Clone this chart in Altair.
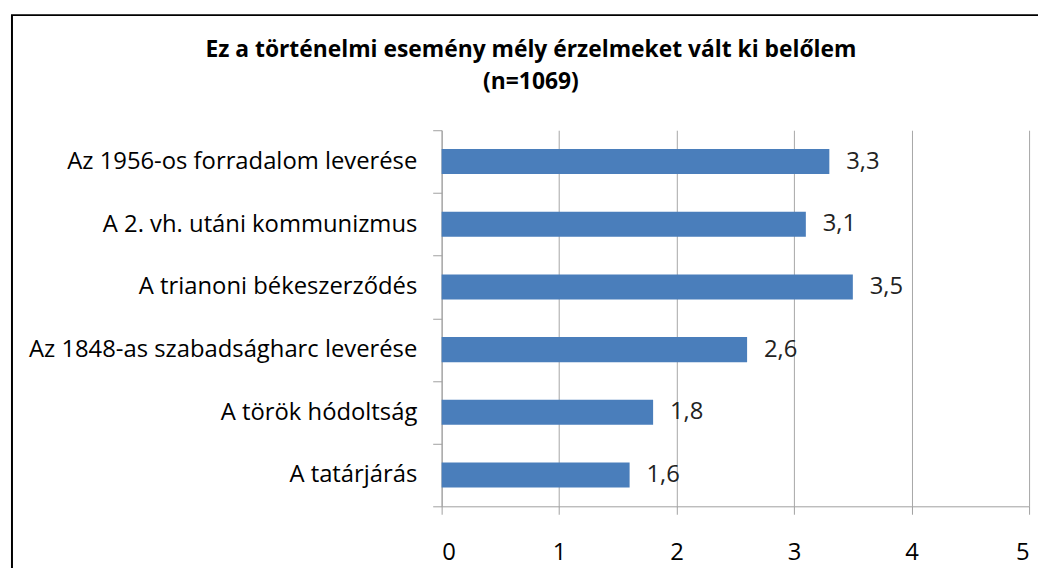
import altair as alt
import pandas as pd

categories = [
    "Az 1956-os forradalom leverése",
    "A 2. vh. utáni kommunizmus",
    "A trianoni békeszerződés",
    "Az 1848-as szabadságharc leverése",
    "A török hódoltság",
    "A tatárjárás",
]
values = [3.3, 3.1, 3.5, 2.6, 1.8, 1.6]
x_ticks = [0, 1, 2, 3, 4, 5]
title_lines = ["Ez a történelmi esemény mély érzelmeket vált ki belőlem", "(n=1069)"]

df = pd.DataFrame({"cat": categories, "val": values})
df["lbl"] = [f"{v:.1f}".replace(".", ",") for v in values]

FONT = "Open Sans"
LEFT = 437
TOP = 121
W, H = 592, 379
PLOT_X = 441
PLOT_TOP = 129
TITLE_X = 531 - PLOT_X

y_enc = alt.Y(
    "cat:N",
    sort=categories,
    title=None,
    scale=alt.Scale(paddingInner=0, paddingOuter=0),
    axis=alt.Axis(
        tickBand="extent",
        tickSize=9,
        tickColor="#a0a0a0",
        domainColor="#a0a0a0",
        labelFont=FONT,
        labelFontSize=24,
        labelColor="#000000",
        labelPadding=16,
        labelLimit=500,
        grid=False,
    ),
)
x_enc = alt.X(
    "val:Q",
    title=None,
    scale=alt.Scale(domain=[0, 5], nice=False),
    axis=alt.Axis(
        values=x_ticks,
        tickSize=8,
        tickColor="#a0a0a0",
        domainColor="#a0a0a0",
        gridColor="#a6a6a6",
        labelFont=FONT,
        labelFontSize=24,
        labelColor="#000000",
        labelPadding=27,
        format="d",
    ),
)

frame = alt.Chart(pd.DataFrame({"a": [0]})).mark_rect(
    fill=None, stroke="#000000", strokeWidth=2
).encode(
    x=alt.value(8 - PLOT_X), x2=alt.value(W + 40), y=alt.value(13 - PLOT_TOP), y2=alt.value(H + 120)
)

title_df = pd.DataFrame({"t": title_lines})
title1 = alt.Chart(title_df.iloc[[0]]).mark_text(
    align="center", baseline="middle", font=FONT, fontSize=23, fontWeight="bold", color="#000000"
).encode(x=alt.value(TITLE_X), y=alt.value(48 - PLOT_TOP), text="t:N")
title2 = alt.Chart(title_df.iloc[[1]]).mark_text(
    align="center", baseline="middle", font=FONT, fontSize=23, fontWeight="bold", color="#000000"
).encode(x=alt.value(TITLE_X), y=alt.value(80 - PLOT_TOP), text="t:N")

bars = alt.Chart(df).mark_bar(
    color="#4a7ebb", height=alt.RelativeBandSize(band=0.4)
).encode(x=x_enc, y=y_enc)
labels = alt.Chart(df).mark_text(
    align="left", baseline="middle", dx=17, font=FONT, fontSize=24, color="#222222"
).encode(x="val:Q", y=alt.Y("cat:N", sort=categories), text="lbl:N")

chart = alt.layer(frame, title1, title2, bars, labels).properties(
    width=W,
    height=H,
    autosize=alt.AutoSizeParams(type="none"),
    padding={"left": LEFT, "top": TOP, "right": 9, "bottom": 60},
).configure_view(stroke=None)

chart.save("out.html", embed_options={"renderer": "svg", "actions": False})
